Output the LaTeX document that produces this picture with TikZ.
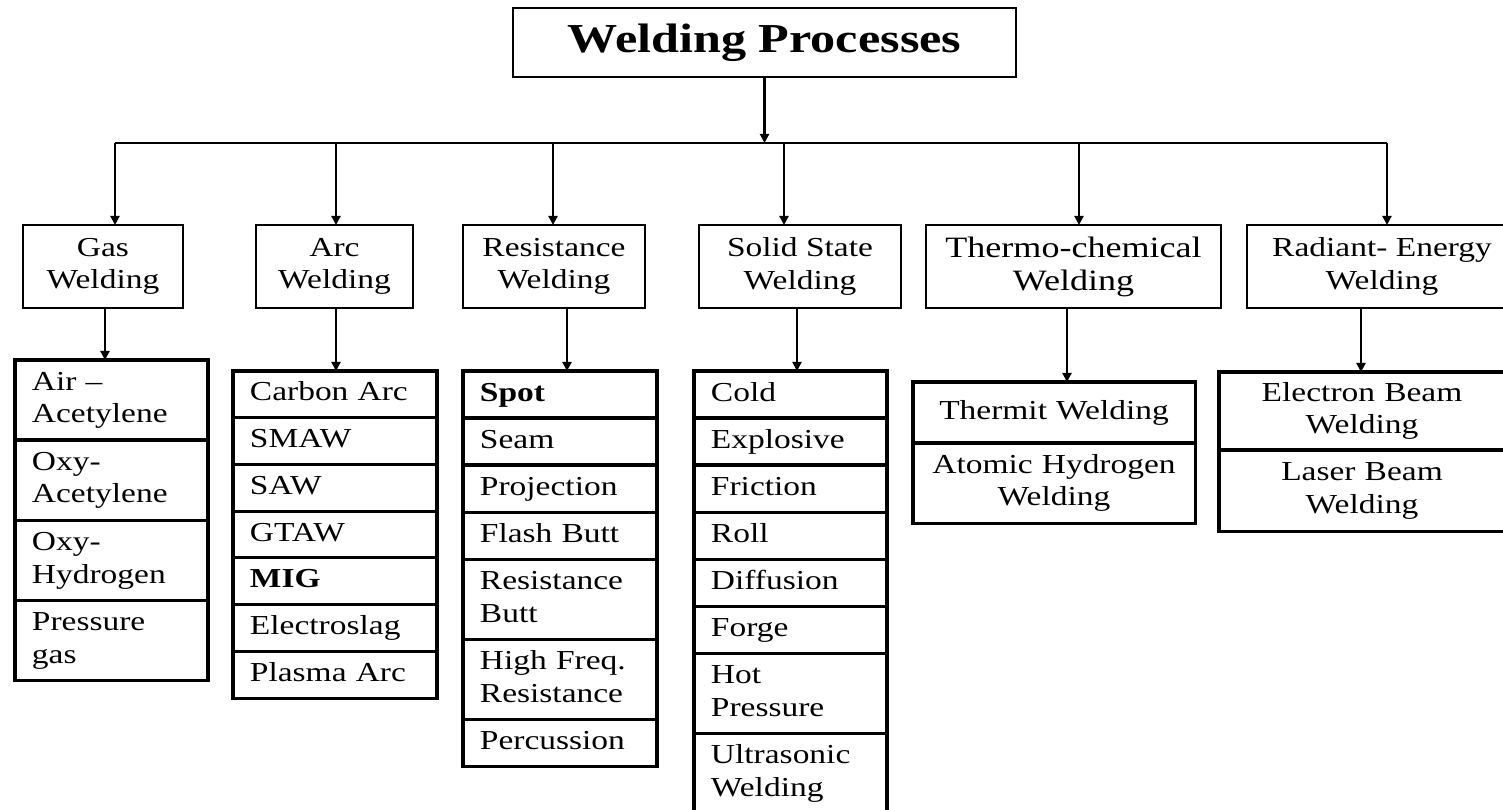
\documentclass[tikz,border=0pt]{standalone}
\usepackage{fontspec}
\setmainfont{Liberation Serif}[FakeStretch=1.22]
\usetikzlibrary{arrows.meta}
\usetikzlibrary{positioning}
\tikzset{head/.style = {-{Triangle[length=2.6pt,width=2.6pt]}, line width=0.6pt}}
\tikzset{groupbox/.style = {draw, line width=0.55pt, align=center, inner sep=0pt, outer sep=0pt,
                            minimum height=0.83cm, font=\fontsize{7.8}{9.2}\selectfont}}
\tikzset{itembox/.style = {draw, line width=0.9pt, outer sep=0pt, inner xsep=0.17cm, inner ysep=0pt,
                           align=left, anchor=north, minimum height=0.47cm, text width=#1,
                           font=\fontsize{7.8}{9.3}\selectfont,
                           execute at begin node=\strut, execute at end node=\strut}}
\tikzset{tallbox/.style = {minimum height=0.8cm}}

\begin{document}
\begin{tikzpicture}[x=0.01cm, y=-0.01cm]
  \useasboundingbox (0,0) rectangle (1503,809);

  \node [draw, line width=0.6pt, minimum width=5.03cm, minimum height=0.69cm, inner sep=0pt,
         font=\fontsize{11.7}{14}\selectfont\bfseries] (title) at (764.5,42.5) {Welding Processes};

  \coordinate (b1) at (115,143);
  \coordinate (b2) at (336,143);
  \coordinate (b3) at (553,143);
  \coordinate (b4) at (784,143);
  \coordinate (b5) at (1079,143);
  \coordinate (b6) at (1387,143);
  \draw [line width=0.6pt] (b1) -- (b6);
  \draw [head] (title.south) -- (title.south |- b1);

  % kinds of welding
  \node [groupbox, minimum width=1.60cm] (gas) at (103,266.5) {Gas\\Welding};
  \node [groupbox, minimum width=1.57cm] (arc) at (334.5,266.5) {Arc\\Welding};
  \node [groupbox, minimum width=1.82cm] (res) at (554,266.5) {Resistance\\Welding};
  \node [groupbox, minimum width=2.01cm] (solid) at (800,266.5) {Solid State\\Welding};
  \node [groupbox, minimum width=2.95cm, font=\fontsize{8.4}{9.4}\selectfont] (thermo) at (1073.5,266.5) {Thermo-chemical\\Welding};
  \node [groupbox, minimum width=2.70cm] (radiant) at (1382,266.5) {Radiant- Energy\\Welding};

  \draw [head] (b1) -- (b1 |- gas.north);
  \draw [head] (b2) -- (b2 |- arc.north);
  \draw [head] (b3) -- (b3 |- res.north);
  \draw [head] (b4) -- (b4 |- solid.north);
  \draw [head] (b5) -- (b5 |- thermo.north);
  \draw [head] (b6) -- (b6 |- radiant.north);

  % gas
  \node [itembox=1.59cm, tallbox] (gas1) at (111.5,360) {Air --\\Acetylene};
  \node [itembox=1.59cm, tallbox, below=0pt of gas1] (gas2) {Oxy-\\Acetylene};
  \node [itembox=1.59cm, tallbox, below=0pt of gas2] (gas3) {Oxy-\\Hydrogen};
  \node [itembox=1.59cm, tallbox, below=0pt of gas3] (gas4) {Pressure\\gas};

  % arc
  \node [itembox=1.70cm, minimum height=0.467cm] (arc1) at (335,371) {Carbon Arc};
  \node [itembox=1.70cm, minimum height=0.467cm, below=0pt of arc1] (arc2) {SMAW};
  \node [itembox=1.70cm, minimum height=0.467cm, below=0pt of arc2] (arc3) {SAW};
  \node [itembox=1.70cm, minimum height=0.467cm, below=0pt of arc3] (arc4) {GTAW};
  \node [itembox=1.70cm, minimum height=0.467cm, below=0pt of arc4] (arc5) {\textbf{MIG}};
  \node [itembox=1.70cm, minimum height=0.467cm, below=0pt of arc5] (arc6) {Electroslag};
  \node [itembox=1.70cm, minimum height=0.467cm, below=0pt of arc6] (arc7) {Plasma Arc};

  % resistance
  \node [itembox=1.60cm] (res1) at (560,371) {\textbf{Spot}};
  \node [itembox=1.60cm, below=0pt of res1] (res2) {Seam};
  \node [itembox=1.60cm, below=0pt of res2] (res3) {Projection};
  \node [itembox=1.60cm, below=0pt of res3] (res4) {Flash Butt};
  \node [itembox=1.60cm, tallbox, below=0pt of res4] (res5) {Resistance\\Butt};
  \node [itembox=1.60cm, tallbox, below=0pt of res5] (res6) {High Freq.\\Resistance};
  \node [itembox=1.60cm, below=0pt of res6] (res7) {Percussion};

  % solid state
  \node [itembox=1.59cm] (solid1) at (790.5,371) {Cold};
  \node [itembox=1.59cm, below=0pt of solid1] (solid2) {Explosive};
  \node [itembox=1.59cm, below=0pt of solid2] (solid3) {Friction};
  \node [itembox=1.59cm, below=0pt of solid3] (solid4) {Roll};
  \node [itembox=1.59cm, below=0pt of solid4] (solid5) {Diffusion};
  \node [itembox=1.59cm, below=0pt of solid5] (solid6) {Forge};
  \node [itembox=1.59cm, tallbox, below=0pt of solid6] (solid7) {Hot\\Pressure};
  \node [itembox=1.59cm, tallbox, below=0pt of solid7] (solid8) {Ultrasonic\\Welding};

  % thermo-chemical
  \node [itembox=2.62cm, inner xsep=0.1cm, align=center, minimum height=0.61cm] (thermo1) at (1054,382) {Thermit Welding};
  \node [itembox=2.62cm, inner xsep=0.1cm, align=center, tallbox, below=0pt of thermo1] (thermo2) {Atomic Hydrogen\\Welding};

  % radiant energy
  \node [itembox=2.52cm, align=center, minimum height=0.78cm] (radiant1) at (1362,372) {Electron Beam\\Welding};
  \node [itembox=2.52cm, align=center, minimum height=0.81cm, below=0pt of radiant1] (radiant2) {Laser Beam\\Welding};

  \draw [head] (gas.south -| 105,0) -- (gas1.north -| 105,0);
  \draw [head] (arc.south -| 336,0) -- (arc1.north -| 336,0);
  \draw [head] (res.south -| 567,0) -- (res1.north -| 567,0);
  \draw [head] (solid.south -| 797,0) -- (solid1.north -| 797,0);
  \draw [head] (thermo.south -| 1067,0) -- (thermo1.north -| 1067,0);
  \draw [head] (radiant.south -| 1361,0) -- (radiant1.north -| 1361,0);
\end{tikzpicture}
\end{document}
